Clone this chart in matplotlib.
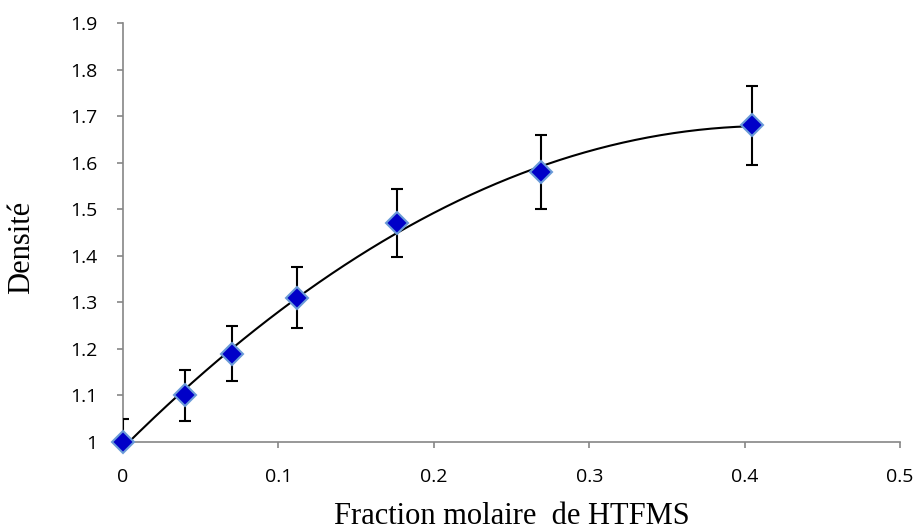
import numpy as np
import matplotlib.pyplot as plt

# data
fraction = [0.0, 0.040, 0.070, 0.112, 0.176, 0.269, 0.405]
densite = [1.00, 1.10, 1.19, 1.31, 1.47, 1.58, 1.68]
erreur = [0.050, 0.055, 0.060, 0.065, 0.073, 0.079, 0.085]
xticks = [0, 0.1, 0.2, 0.3, 0.4, 0.5]
yticks = [1, 1.1, 1.2, 1.3, 1.4, 1.5, 1.6, 1.7, 1.8, 1.9]

fig = plt.figure(figsize=(9.19, 5.31), dpi=100)
ax = fig.add_axes([123/919, 89/531, 777/919, 419/531])

# polynomial trend line (order 2), like the spreadsheet one
coef = np.polyfit(fraction, densite, 2)
xs = np.linspace(min(fraction), max(fraction), 200)
ax.plot(xs, np.polyval(coef, xs), color="black", linewidth=1.5, zorder=2)

ax.errorbar(fraction, densite, yerr=erreur, fmt="none", ecolor="black",
            elinewidth=1.5, capsize=4.5, capthick=1.5, zorder=3)
ax.plot(fraction, densite, linestyle="none", marker="D", markersize=11,
        markerfacecolor="#0000C8", markeredgecolor="#6A9BD8",
        markeredgewidth=1.5, zorder=4, clip_on=False)

ax.set_xlim(0, 0.5)
ax.set_ylim(1, 1.9)
ax.set_xticks(xticks)
ax.set_yticks(yticks)
ax.set_xticklabels([f"{t:g}" for t in xticks])
ax.set_yticklabels([f"{t:g}" for t in yticks])

for s in ["top", "right"]:
    ax.spines[s].set_visible(False)
for s in ["left", "bottom"]:
    ax.spines[s].set_color("#868686")
    ax.spines[s].set_linewidth(1.2)
ax.tick_params(direction="out", length=4.5, width=1.2, color="#868686",
               labelsize=14, pad=14)
for lab in ax.get_xticklabels() + ax.get_yticklabels():
    lab.set_family("Open Sans")

ax.set_xlabel("Fraction molaire  de HTFMS", family="Liberation Serif",
              fontsize=22, labelpad=12)
ax.set_ylabel("Densité", family="Liberation Serif", fontsize=22)
ax.yaxis.set_label_coords(-0.112, 0.465)

plt.savefig("out.png", dpi=100)
